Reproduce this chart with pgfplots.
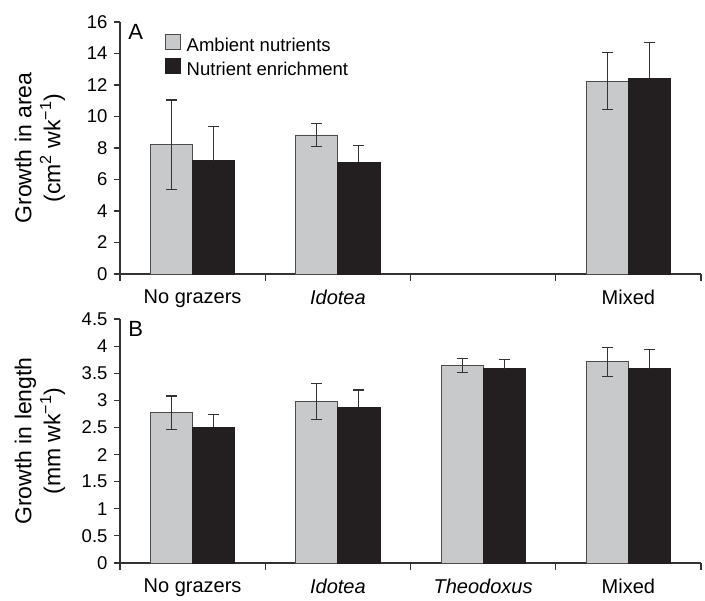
\documentclass[border=0pt]{standalone}
\usepackage{pgfplots}
\pgfplotsset{compat=1.18}
\usepackage{fontspec}
\setmainfont{Liberation Sans}
\definecolor{barg}{HTML}{C8C9CB}
\definecolor{bark}{HTML}{231F20}
\definecolor{axc}{HTML}{333333}
\pgfplotsset{
  panel/.style={
    scale only axis,
    width=581pt,
    xmin=-0.5, xmax=3.5,
    ymin=0,
    axis x line*=bottom,
    axis y line*=left,
    axis line style={axc, line width=1.1pt},
    every tick/.style={axc, line width=1.1pt},
    tick align=outside,
    xtick={0,1,2,3},
    major x tick style={draw=none},
    minor xtick={-0.5,0.5,1.5,2.5,3.5},
    minor tick length=7pt,
    major tick length=6pt,
    ybar=0pt,
    bar width=0.29,
    /pgf/number format/assume math mode=true,
    /pgf/number format/.cd, fixed, precision=1, /pgfplots/.cd,
    xticklabel style={font=\fontsize{20}{24}\selectfont, yshift=-6pt},
    yticklabel style={font=\fontsize{18.5}{22}\selectfont, xshift=-3pt},
    every axis y label/.style={at={(axis description cs:-0.138,0.5)}, rotate=90, anchor=center,
      font=\fontsize{23}{29}\selectfont, align=center},
    clip=false,
  },
  gbar/.style={fill=barg, draw=black!70, line width=0.8pt,
    error bars/.cd, y dir=both, y explicit, error mark=|,
    error bar style={draw=axc, line width=1.1pt},
    error mark options={draw=axc, line width=1.1pt, mark size=5.5pt}},
  kbar/.style={fill=bark, draw=bark, line width=0.8pt,
    error bars/.cd, y dir=plus, y explicit, error mark=|,
    error bar style={draw=axc, line width=1.1pt},
    error mark options={draw=axc, line width=1.1pt, mark size=5.5pt}},
}
\begin{document}
\begin{tikzpicture}
\useasboundingbox (0,0) rectangle (705pt,601pt);
\begin{axis}[panel,
  at={(120pt,327pt)}, anchor=south west,
  height=252pt, ymax=16, ytick={0,2,...,16},
  xticklabels={No grazers,\textit{Idotea},,Mixed},
  ylabel={Growth in area\\(cm\textsuperscript{2} wk\textsuperscript{\char"2212 1})},
  legend style={draw=none, fill=none, at={(axis description cs:0.077,0.952)}, anchor=north west,
    font=\fontsize{18.5}{22}\selectfont, inner sep=0pt, row sep=3pt,
    legend cell align=left},
  legend image code/.code={\draw[#1, bar width=0pt] (0pt,-4pt) rectangle (15pt,11pt); \path (19pt,3pt);},
]
\addplot[gbar] coordinates {(0,8.2) +- (0,2.85) (1,8.83) +- (0,0.72) (3,12.25) +- (0,1.83)};
\addplot[kbar] coordinates {(0,7.2) +- (0,2.15) (1,7.09) +- (0,1.08) (3,12.42) +- (0,2.27)};
\legend{Ambient nutrients, Nutrient enrichment}
\node[anchor=north west, inner sep=0pt, font=\fontsize{22}{26}\selectfont] at (axis description cs:0.014,0.99) {A};
\end{axis}
\begin{axis}[panel,
  at={(120pt,38pt)}, anchor=south west,
  height=244pt, ymax=4.5, ytick={0,0.5,...,4.5},
  xticklabels={No grazers,\textit{Idotea},\textit{Theodoxus},Mixed},
  ylabel={Growth in length\\(mm wk\textsuperscript{\char"2212 1})},
]
\addplot[gbar] coordinates {(0,2.77) +- (0,0.31) (1,2.98) +- (0,0.33) (2,3.64) +- (0,0.13) (3,3.71) +- (0,0.27)};
\addplot[kbar] coordinates {(0,2.50) +- (0,0.24) (1,2.87) +- (0,0.32) (2,3.58) +- (0,0.18) (3,3.58) +- (0,0.35)};
\node[anchor=north west, inner sep=0pt, font=\fontsize{22}{26}\selectfont] at (axis description cs:0.014,0.99) {B};
\end{axis}
\end{tikzpicture}
\end{document}
